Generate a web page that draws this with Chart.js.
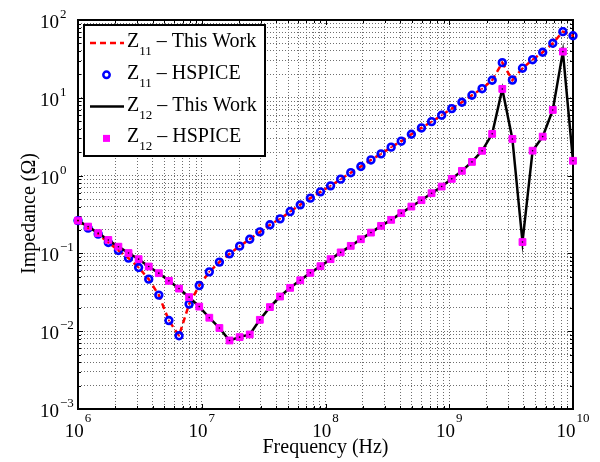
<!DOCTYPE html>
<html>
<head>
  <title>Impedance vs Frequency</title>
  <script src="https://cdn.jsdelivr.net/npm/chart.js"></script>
  <style>
    body { margin: 0; background: #fff; }
    canvas { display: block; }
  </style>
</head>
<body>
  <canvas id="zChart" width="600" height="462"></canvas>
  <script>
    // sweep points (Hz), 50 per 4 decades
    const freqHz = [
      1.000e6, 1.207e6, 1.456e6, 1.758e6, 2.121e6, 2.560e6, 3.089e6, 3.728e6, 4.498e6, 5.429e6,
      6.551e6, 7.906e6, 9.541e6, 1.151e7, 1.389e7, 1.677e7, 2.024e7, 2.442e7, 2.947e7, 3.556e7,
      4.292e7, 5.179e7, 6.251e7, 7.543e7, 9.103e7, 1.099e8, 1.326e8, 1.600e8, 1.931e8, 2.330e8,
      2.812e8, 3.393e8, 4.095e8, 4.942e8, 5.964e8, 7.197e8, 8.685e8, 1.048e9, 1.265e9, 1.526e9,
      1.842e9, 2.223e9, 2.683e9, 3.237e9, 3.907e9, 4.715e9, 5.690e9, 6.866e9, 8.286e9, 1.000e10
    ];

    // |Z11| in ohms (This Work and HSPICE overlap)
    const z11 = [
      0.264, 0.211, 0.177, 0.138, 0.109, 0.0869, 0.0658, 0.0467, 0.0291, 0.0137,
      0.00873, 0.0223, 0.0386, 0.0579, 0.0773, 0.0987, 0.124, 0.152, 0.189, 0.233,
      0.278, 0.345, 0.421, 0.513, 0.618, 0.738, 0.900, 1.09, 1.31, 1.59,
      1.90, 2.32, 2.77, 3.40, 4.10, 4.94, 5.97, 7.26, 8.77, 10.8,
      13.1, 16.8, 28.3, 16.9, 24.0, 30.9, 38.5, 50.2, 70.8, 62.8
    ];

    // |Z12| in ohms
    const z12 = [
      0.264, 0.221, 0.182, 0.149, 0.122, 0.101, 0.0843, 0.0678, 0.0557, 0.0444,
      0.0353, 0.0274, 0.0207, 0.0149, 0.0110, 0.00760, 0.00839, 0.00908, 0.0140, 0.0204,
      0.0279, 0.0361, 0.0451, 0.0562, 0.0685, 0.0843, 0.103, 0.125, 0.152, 0.185,
      0.226, 0.270, 0.329, 0.400, 0.483, 0.594, 0.723, 0.908, 1.15, 1.50,
      2.08, 3.44, 13.0, 2.96, 0.140, 2.09, 3.17, 6.98, 39.2, 1.55
    ];

    const xDecades = [6, 7, 8, 9, 10];
    const yDecades = [-3, -2, -1, 0, 1, 2];

    const legendRows = [
      { sub: '11', text: ' \u2013 This Work', kind: 'dash' },
      { sub: '11', text: ' \u2013 HSPICE', kind: 'circle' },
      { sub: '12', text: ' \u2013 This Work', kind: 'solid' },
      { sub: '12', text: ' \u2013 HSPICE', kind: 'square' }
    ];

    const SERIF = '"Liberation Serif", "Times New Roman", serif';

    function pts(vals) {
      return freqHz.map((f, i) => ({ x: f, y: vals[i] }));
    }

    // 1..9 x 10^n gridlines, like a matlab log grid
    function logTicks(decades) {
      const t = [];
      for (let i = 0; i < decades.length; i++) {
        const p = Math.pow(10, decades[i]);
        t.push({ value: p, major: true });
        if (i < decades.length - 1) {
          for (let m = 2; m <= 9; m++) t.push({ value: m * p, major: false });
        }
      }
      return t;
    }

    function drawPow(ctx, x, baseY, supY, exp) {
      ctx.font = '19px ' + SERIF;
      ctx.textAlign = 'left';
      ctx.textBaseline = 'alphabetic';
      ctx.fillText('10', x, baseY);
      const w = ctx.measureText('10').width;
      ctx.font = '13px ' + SERIF;
      ctx.fillText(String(exp).replace('-', '\u2212'), x + w + 1, supY);
    }

    function powWidth(ctx, exp) {
      ctx.font = '19px ' + SERIF;
      const a = ctx.measureText('10').width;
      ctx.font = '13px ' + SERIF;
      const b = ctx.measureText(String(exp).replace('-', '\u2212')).width;
      return a + 1 + b;
    }

    const axesDecor = {
      id: 'axesDecor',
      beforeDatasetsDraw(chart) {
        const { ctx, chartArea: a, scales } = chart;
        ctx.save();
        ctx.strokeStyle = '#000';
        ctx.lineWidth = 1;
        // inward ticks on all four sides
        scales.x.ticks.forEach(t => {
          const px = Math.round(scales.x.getPixelForValue(t.value)) + 0.5;
          const len = t.major ? 5 : 3;
          ctx.beginPath();
          ctx.moveTo(px, a.bottom); ctx.lineTo(px, a.bottom - len);
          ctx.moveTo(px, a.top); ctx.lineTo(px, a.top + len);
          ctx.stroke();
        });
        scales.y.ticks.forEach(t => {
          const py = Math.round(scales.y.getPixelForValue(t.value)) + 0.5;
          const len = t.major ? 5 : 3;
          ctx.beginPath();
          ctx.moveTo(a.left, py); ctx.lineTo(a.left + len, py);
          ctx.moveTo(a.right, py); ctx.lineTo(a.right - len, py);
          ctx.stroke();
        });
        // frame
        ctx.lineWidth = 2;
        ctx.strokeRect(a.left, a.top, a.right - a.left, a.bottom - a.top);

        // tick labels
        ctx.fillStyle = '#000';
        xDecades.forEach(e => {
          const px = scales.x.getPixelForValue(Math.pow(10, e));
          const w = powWidth(ctx, e);
          drawPow(ctx, px - w / 2, 437, 422, e);
        });
        yDecades.forEach(e => {
          const py = scales.y.getPixelForValue(Math.pow(10, e));
          ctx.font = '19px ' + SERIF;
          const w = ctx.measureText('10').width;
          drawPow(ctx, 59 - w, py + 8, py - 2, e);
        });

        // axis titles
        ctx.font = '20px ' + SERIF;
        ctx.textAlign = 'center';
        ctx.fillText('Frequency (Hz)', (a.left + a.right) / 2, 453);
        ctx.save();
        ctx.translate(35, (a.top + a.bottom) / 2 - 1);
        ctx.rotate(-Math.PI / 2);
        ctx.fillText('Impedance (\u03A9)', 0, 0);
        ctx.restore();
        ctx.restore();
      },
      afterDatasetsDraw(chart) {
        const ctx = chart.ctx;
        ctx.save();
        // legend box
        ctx.fillStyle = '#fff';
        ctx.fillRect(84, 25, 181, 131);
        ctx.strokeStyle = '#000';
        ctx.lineWidth = 2;
        ctx.strokeRect(84, 25, 181, 131);

        legendRows.forEach((r, k) => {
          const y = 43 + k * 31.8;
          if (r.kind === 'dash' || r.kind === 'solid') {
            ctx.beginPath();
            ctx.strokeStyle = r.kind === 'dash' ? '#ff0000' : '#000';
            ctx.lineWidth = 2.5;
            ctx.setLineDash(r.kind === 'dash' ? [6, 4] : []);
            ctx.moveTo(90, y); ctx.lineTo(124, y);
            ctx.stroke();
            ctx.setLineDash([]);
          } else if (r.kind === 'circle') {
            ctx.beginPath();
            ctx.strokeStyle = '#0000ff';
            ctx.lineWidth = 2.5;
            ctx.arc(106.5, y, 3.2, 0, Math.PI * 2);
            ctx.stroke();
          } else {
            ctx.fillStyle = '#ff00ff';
            ctx.fillRect(103, y - 3.5, 7, 7);
          }
          ctx.fillStyle = '#000';
          ctx.textAlign = 'left';
          ctx.textBaseline = 'alphabetic';
          ctx.font = '20px ' + SERIF;
          ctx.fillText('Z', 127, y + 4);
          let x = 127 + ctx.measureText('Z').width;
          ctx.font = '13px ' + SERIF;
          ctx.fillText(r.sub, x, y + 12);
          x += ctx.measureText(r.sub).width;
          ctx.font = '20px ' + SERIF;
          ctx.fillText(r.text, x, y + 4);
        });
        ctx.restore();
      }
    };

    const ctx = document.getElementById('zChart').getContext('2d');
    const chart = new Chart(ctx, {
      type: 'line',
      data: {
        datasets: [
          {
            label: 'Z11 - This Work',
            data: pts(z11),
            borderColor: '#ff0000',
            borderWidth: 2.5,
            borderDash: [6, 4],
            pointRadius: 0,
            tension: 0,
            clip: false,
            order: 6
          },
          {
            label: 'Z11 - HSPICE',
            data: pts(z11),
            showLine: false,
            pointStyle: 'circle',
            pointRadius: 3.4,
            pointBorderWidth: 2.6,
            pointBorderColor: '#0000ff',
            pointBackgroundColor: 'rgba(0,0,0,0)',
            clip: false,
            order: 5
          },
          {
            label: 'Z12 - This Work',
            data: pts(z12),
            borderColor: '#000000',
            borderWidth: 2.5,
            pointRadius: 0,
            tension: 0,
            clip: false,
            order: 4
          },
          {
            label: 'Z12 - HSPICE',
            data: pts(z12),
            showLine: false,
            pointStyle: 'rect',
            pointRadius: 4.8,
            pointBorderWidth: 1,
            pointBorderColor: '#ff00ff',
            pointBackgroundColor: '#ff00ff',
            clip: false,
            order: 3
          },
          // small vertex dots of the model lines, visible inside the markers
          {
            label: 'z11 vertices',
            data: pts(z11),
            showLine: false,
            pointRadius: 1,
            pointBorderWidth: 0,
            pointBackgroundColor: '#ff0000',
            clip: false,
            order: 2
          },
          {
            label: 'z12 vertices',
            data: pts(z12),
            showLine: false,
            pointRadius: 0.8,
            pointBorderWidth: 0,
            pointBackgroundColor: '#000000',
            clip: false,
            order: 1
          }
        ]
      },
      options: {
        responsive: false,
        animation: false,
        events: [],
        layout: { padding: { left: 78, right: 27, top: 20, bottom: 53 } },
        plugins: {
          legend: { display: false },
          tooltip: { enabled: false }
        },
        scales: {
          x: {
            type: 'logarithmic',
            min: 1e6,
            max: 1e10,
            afterBuildTicks: axis => { axis.ticks = logTicks(xDecades); },
            ticks: { display: false },
            grid: { color: '#6e6e6e', lineWidth: 1, drawTicks: false },
            border: { display: false, dash: [1, 2] }
          },
          y: {
            type: 'logarithmic',
            min: 1e-3,
            max: 1e2,
            afterBuildTicks: axis => { axis.ticks = logTicks(yDecades); },
            ticks: { display: false },
            grid: { color: '#6e6e6e', lineWidth: 1, drawTicks: false },
            border: { display: false, dash: [1, 2] }
          }
        }
      },
      plugins: [axesDecor]
    });
  </script>
</body>
</html>
